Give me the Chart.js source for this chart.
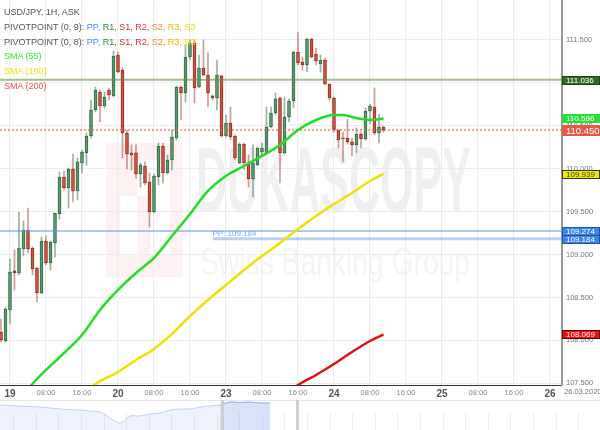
<!DOCTYPE html>
<html lang="en">
<head>
<meta charset="UTF-8">
<title>USD/JPY, 1H, ASK</title>
<script src="https://cdn.jsdelivr.net/npm/chart.js"></script>
<style>
    body { margin: 0; background: #fff; }
    #wrap { position: relative; width: 600px; height: 430px; overflow: hidden; font-family: "Liberation Sans", Arial, sans-serif; }
    #main { position: absolute; left: 0; top: 0; }
    #nav { position: absolute; left: 0; top: 400px; }
    .legend { position: absolute; left: 4px; top: 5px; font-size: 9px; line-height: 14.8px; color: #555; white-space: nowrap; }
</style>
</head>
<body>
<div id="wrap">
    <canvas id="main" width="600" height="400"></canvas>
    <canvas id="nav" width="600" height="30"></canvas>
    <div class="legend">
        <div>USD/JPY, 1H, ASK</div>
        <div>PIVOTPOINT (0, 9): <span style="color:#4a8fe8">PP,</span> <span style="color:#2e8b2e">R1,</span> <span style="color:#c0392b">S1,</span> <span style="color:#e83030">R2,</span> <span style="color:#f08a3c">S2,</span> <span style="color:#f5b400">R3,</span> <span style="color:#ece000">S3</span></div>
        <div>PIVOTPOINT (0, 8): <span style="color:#4a8fe8">PP,</span> <span style="color:#2e8b2e">R1,</span> <span style="color:#c0392b">S1,</span> <span style="color:#e83030">R2,</span> <span style="color:#f08a3c">S2,</span> <span style="color:#f5b400">R3,</span> <span style="color:#ece000">S3</span></div>
        <div style="color:#2ee62e">SMA (55)</div>
        <div style="color:#ece000">SMA (100)</div>
        <div style="color:#f05050">SMA (200)</div>
    </div>
</div>

<script>
// hourly candles, index 0 = 18.03 22:00
const opens = [108.098, 107.993, 108.354, 108.809, 108.785, 109.065, 109.286, 109.076, 108.844, 108.552,
    109.158, 108.902, 109.135, 109.473, 109.904, 109.776, 109.997, 109.741, 110.067, 110.184,
    110.381, 110.684, 110.894, 110.731, 110.917, 110.848, 111.325, 111.150, 110.416, 110.184,
    110.184, 109.939, 110.032, 109.846, 109.496, 109.904, 110.265, 109.950, 110.102, 110.358,
    110.952, 110.882, 111.302, 111.465, 110.952, 111.174, 111.092, 110.848, 110.824, 111.081,
    110.381, 110.533, 110.381, 110.067, 110.288, 110.067, 109.880, 110.044, 110.195, 110.184,
    110.486, 110.649, 110.824, 110.184, 110.603, 110.789, 111.360, 111.244, 111.209, 111.512,
    111.337, 111.220, 111.267, 110.987, 110.824, 110.451, 110.358, 110.358, 110.312, 110.277,
    110.405, 110.347, 110.673, 110.719, 110.416, 110.486];
const highs = [108.249, 108.389, 108.948, 109.053, 109.496, 109.391, 109.542, 109.088, 108.844, 109.205,
    109.216, 109.158, 109.484, 109.962, 109.974, 110.009, 110.172, 110.125, 110.218, 110.416,
    110.801, 110.952, 110.917, 110.894, 110.941, 111.372, 111.360, 111.174, 110.451, 110.277,
    110.277, 110.067, 110.079, 109.950, 109.939, 110.300, 110.300, 110.160, 110.451, 110.964,
    110.964, 111.442, 111.500, 111.500, 111.325, 111.500, 111.349, 110.859, 111.267, 111.092,
    110.626, 110.719, 110.393, 110.300, 110.300, 110.160, 110.277, 110.253, 110.300, 110.719,
    110.719, 110.882, 110.836, 110.836, 110.813, 111.372, 111.593, 111.302, 111.523, 111.523,
    111.407, 111.325, 111.290, 110.987, 110.836, 110.451, 110.428, 110.580, 110.358, 110.475,
    110.428, 110.708, 110.754, 110.941, 110.638, 110.498];
const lows = [107.981, 107.981, 108.191, 108.587, 108.762, 108.983, 109.018, 108.762, 108.447, 108.541,
    108.879, 108.820, 108.972, 109.414, 109.752, 109.542, 109.612, 109.636, 109.950, 110.044,
    110.358, 110.661, 110.545, 110.708, 110.801, 110.836, 111.116, 110.125, 109.997, 109.985,
    109.892, 109.787, 109.811, 109.321, 109.484, 109.811, 109.834, 109.939, 109.985, 110.335,
    110.568, 110.778, 111.267, 110.766, 110.941, 111.081, 110.719, 110.801, 110.684, 110.370,
    110.370, 110.335, 110.102, 110.055, 109.985, 109.787, 109.671, 110.032, 110.160, 110.172,
    110.475, 110.626, 109.834, 110.172, 110.545, 110.708, 111.209, 111.150, 111.127, 111.290,
    111.209, 111.127, 110.976, 110.801, 110.428, 110.242, 110.079, 110.288, 110.149, 110.184,
    110.242, 110.335, 110.521, 110.393, 110.300, 110.428];
const closes = [108.005, 108.366, 108.797, 108.785, 109.076, 109.286, 109.065, 108.832, 108.552, 109.158,
    108.902, 109.146, 109.484, 109.904, 109.776, 109.997, 109.741, 110.079, 110.195, 110.381,
    110.684, 110.917, 110.731, 110.836, 110.859, 111.314, 111.127, 110.416, 110.172, 110.160,
    109.939, 110.044, 109.834, 109.496, 109.915, 110.265, 109.950, 110.102, 110.370, 110.952,
    110.882, 111.302, 111.465, 110.941, 111.174, 111.092, 110.882, 110.824, 111.092, 110.381,
    110.533, 110.370, 110.125, 110.288, 110.067, 109.880, 110.067, 110.242, 110.242, 110.486,
    110.649, 110.813, 110.184, 110.603, 110.789, 111.360, 111.232, 111.209, 111.512, 111.302,
    111.255, 111.267, 110.987, 110.824, 110.451, 110.335, 110.347, 110.312, 110.277, 110.405,
    110.347, 110.673, 110.731, 110.416, 110.486, 110.450];

// moving averages (candle index -> value)
const sma55X = [4, 7, 10, 14, 18, 22, 26, 30, 34, 38, 42, 46, 50, 54, 58, 62, 66, 70, 74, 76, 78, 80, 82, 84, 85];
const sma55 = [107.300, 107.492, 107.655, 107.853, 108.063, 108.354, 108.587, 108.785, 108.960, 109.216,
    109.473, 109.741, 109.915, 110.032, 110.149, 110.277, 110.451, 110.568, 110.626, 110.626,
    110.603, 110.580, 110.568, 110.577, 110.586];
const sma100X = [19, 21, 26, 30, 34, 38, 42, 46, 50, 54, 58, 62, 66, 70, 74, 78, 82, 85];
const sma100 = [107.400, 107.492, 107.632, 107.772, 107.900, 108.075, 108.284, 108.471, 108.645, 108.820,
    108.983, 109.135, 109.298, 109.449, 109.589, 109.717, 109.857, 109.939];
const sma200X = [64, 66, 70, 74, 78, 82, 85];
const sma200 = [107.400, 107.480, 107.597, 107.725, 107.865, 107.993, 108.069];

// x axis
const tickIndex = [2, 10, 18, 26, 34, 42, 50, 58, 66, 74, 82, 90, 98, 106, 114, 122];
const tickLabels = ['19', '08:00', '16:00', '20', '08:00', '16:00', '23', '08:00', '16:00', '24', '08:00', '16:00', '25', '08:00', '16:00', '26'];
const dateLabel = '26.03.2020';

// levels
const r1Level = 111.036;
const ppLevel9 = 109.274;
const ppLevel8 = 109.184;
const ppStart8 = 47;
const lastPrice = 110.450;
const sma55Last = 110.586;
const sma100Last = 109.939;
const sma200Last = 108.069;

// navigator strip
const navLevels = [25, 24.5, 24, 23.5, 23, 22, 21, 20.5, 20, 19, 18, 12, 7, 14, 14, 16, 17, 20, 21, 21,
    23, 24, 25, 28, 27.5, 28, 27, 27];
const navWindow = [22, 27];

const xMin = -0.22, xMax = 124.67;
const FONT = '"Liberation Sans", Arial, sans-serif';
const upBody = '#5e9c70', upLine = '#2f6a40', upWick = 'rgba(70,115,85,0.55)';
const dnBody = '#d9533f', dnLine = '#8c2c1f', dnWick = 'rgba(150,60,50,0.5)';
const isUp = i => closes[i] >= opens[i];
const idx = opens.map((_, i) => i);
const pts = (xs, ys) => xs.map((x, i) => ({x: x, y: ys[i]}));
const hLine = (v, from) => [{x: from, y: v}, {x: xMax, y: v}];
const isHourTick = c => {
    const i = c && c.tick ? tickIndex.indexOf(c.tick.value) : -1;
    return i >= 0 && tickLabels[i].indexOf(':') >= 0;
};

const priceTags = [
    {value: r1Level, bg: '#2f6b21', fg: '#fff', border: '#1d4a12', size: 8},
    {value: sma55Last, bg: '#22e23a', fg: '#fff', border: '#22e23a', size: 8},
    {value: lastPrice, bg: '#e35a45', fg: '#fff', border: '#e35a45', size: 9.5, h: 11},
    {value: sma100Last, bg: '#f2ea00', fg: '#333', border: '#333', size: 8},
    {value: ppLevel9, bg: '#3d83e6', fg: '#fff', border: '#1f55a8', size: 8},
    {value: ppLevel8, bg: '#3d83e6', fg: '#fff', border: '#1f55a8', size: 8},
    {value: sma200Last, bg: '#f01010', fg: '#fff', border: '#5a0000', size: 8}
];

const decor = {
    id: 'decor',
    beforeDraw(chart) {
        const ctx = chart.ctx;
        ctx.save();
        ctx.fillStyle = '#fff';
        ctx.fillRect(0, 0, chart.width, chart.height);
        // watermark logo
        ctx.fillStyle = 'rgba(235,60,60,0.07)';
        ctx.fillRect(106, 143, 77, 134);
        ctx.fillStyle = '#fff';
        ctx.fillRect(120, 196, 17, 58);
        ctx.fillRect(137, 160, 33, 36);
        ctx.fillRect(150, 196, 20, 58);
        // watermark text
        ctx.fillStyle = 'rgba(0,0,0,0.06)';
        ctx.textBaseline = 'alphabetic';
        ctx.font = 'bold 92px ' + FONT;
        ctx.fillText('DUKASCOPY', 196, 212, 275);
        ctx.fillStyle = 'rgba(0,0,0,0.045)';
        ctx.font = '38px ' + FONT;
        ctx.fillText('Swiss Banking Group', 200, 275, 270);
        ctx.restore();
    },
    afterDatasetsDraw(chart) {
        const {ctx, scales: {x, y}} = chart;
        ctx.save();
        ctx.fillStyle = 'rgba(110,160,235,0.9)';
        ctx.font = '8px ' + FONT;
        ctx.textBaseline = 'bottom';
        ctx.fillText('PP: ' + ppLevel8.toFixed(3), x.getPixelForValue(ppStart8), y.getPixelForValue(ppLevel8) - 1);
        ctx.restore();
    },
    afterDraw(chart) {
        const {ctx, chartArea, scales: {y}} = chart;
        ctx.save();
        priceTags.forEach(t => {
            const h = t.h || 9;
            const py = Math.round(y.getPixelForValue(t.value) + 1);
            const top = py - Math.round(h / 2);
            ctx.fillStyle = t.bg;
            ctx.fillRect(chartArea.right, top, chart.width - chartArea.right, h);
            ctx.strokeStyle = t.border;
            ctx.lineWidth = 1;
            ctx.strokeRect(chartArea.right + 0.5, top + 0.5, chart.width - chartArea.right - 1, h - 1);
            ctx.fillStyle = t.fg;
            ctx.font = t.size + 'px ' + FONT;
            ctx.textBaseline = 'middle';
            ctx.fillText(t.value.toFixed(3), chartArea.right + 4, top + h / 2 + 0.5);
        });
        ctx.fillStyle = '#777';
        ctx.font = '7.5px ' + FONT;
        ctx.textBaseline = 'middle';
        ctx.fillText(dateLabel, chartArea.right + 2, chartArea.bottom + 7);
        ctx.restore();
    }
};

new Chart(document.getElementById('main'), {
    data: {
        datasets: [
            {
                type: 'bar', label: 'wicks', order: 5, grouped: false, barThickness: 1,
                data: idx.map(i => ({x: i, y: [lows[i], highs[i]]})),
                backgroundColor: c => isUp(c.dataIndex) ? upWick : dnWick
            },
            {
                type: 'bar', label: 'bodies', order: 4, grouped: false, barThickness: 3, minBarLength: 1,
                data: idx.map(i => ({x: i, y: [opens[i], closes[i]]})),
                backgroundColor: c => isUp(c.dataIndex) ? upBody : dnBody,
                borderColor: c => isUp(c.dataIndex) ? upLine : dnLine,
                borderWidth: 1, borderSkipped: false
            },
            { type: 'line', label: 'R1', order: 3, data: hLine(r1Level, xMin), borderColor: 'rgba(95,145,65,0.6)', borderWidth: 2, pointRadius: 0 },
            { type: 'line', label: 'last', order: 3, data: hLine(lastPrice, xMin), borderColor: 'rgba(235,110,95,0.65)', borderWidth: 2, borderDash: [2, 2], pointRadius: 0 },
            { type: 'line', label: 'PP9', order: 3, data: hLine(ppLevel9, xMin), borderColor: '#5a93ee', borderWidth: 1, pointRadius: 0 },
            { type: 'line', label: 'PP8', order: 3, data: hLine(ppLevel8, ppStart8), borderColor: 'rgba(130,170,240,0.55)', borderWidth: 3, pointRadius: 0 },
            { type: 'line', label: 'SMA (55)', order: 1, data: pts(sma55X, sma55), borderColor: '#22dd22', borderWidth: 2.5, pointRadius: 0, cubicInterpolationMode: 'monotone' },
            { type: 'line', label: 'SMA (100)', order: 1, data: pts(sma100X, sma100), borderColor: '#eee200', borderWidth: 2.5, pointRadius: 0, cubicInterpolationMode: 'monotone' },
            { type: 'line', label: 'SMA (200)', order: 1, data: pts(sma200X, sma200), borderColor: '#e01010', borderWidth: 2.5, pointRadius: 0, cubicInterpolationMode: 'monotone' }
        ]
    },
    options: {
        responsive: false,
        animation: false,
        events: [],
        layout: { padding: 0, autoPadding: false },
        plugins: { legend: { display: false }, tooltip: { enabled: false } },
        scales: {
            x: {
                type: 'linear', min: xMin, max: xMax, position: 'bottom', offset: false,
                afterBuildTicks: s => { s.ticks = tickIndex.map(v => ({value: v})); },
                afterFit: s => { s.height = 15; s.paddingLeft = 0; s.paddingRight = 0; },
                grid: { color: '#ececec', drawTicks: false, offset: false },
                border: { color: '#333', width: 1 },
                ticks: {
                    autoSkip: false, maxRotation: 0, padding: 3,
                    callback: v => tickLabels[tickIndex.indexOf(v)],
                    color: c => isHourTick(c) ? '#888' : '#555',
                    font: c => isHourTick(c)
                        ? { size: 7.5, family: FONT }
                        : { size: 10, weight: 'bold', family: FONT }
                }
            },
            y: {
                type: 'linear', position: 'right', min: 107.48, max: 111.966,
                afterFit: s => { s.width = 38; s.paddingTop = 0; s.paddingBottom = 0; },
                grid: { color: '#ececec', drawTicks: false },
                border: { color: '#999', width: 2 },
                ticks: {
                    stepSize: 0.5, includeBounds: false, padding: 4,
                    color: '#777',
                    font: { size: 7.5, family: FONT },
                    callback: v => v.toFixed(3)
                }
            }
        }
    },
    plugins: [decor]
});

const navDecor = {
    id: 'navDecor',
    beforeDatasetsDraw(chart) {
        // faint time ticks in the lower half of the strip
        const {ctx, scales: {x}} = chart;
        ctx.save();
        ctx.fillStyle = 'rgba(0,0,0,0.07)';
        for (let v = 1.32; v < 60; v += 2.26) {
            ctx.fillRect(Math.round(x.getPixelForValue(v)), 13, 1, chart.height - 13);
        }
        ctx.restore();
    },
    afterDraw(chart) {
        const {ctx, scales: {x}} = chart;
        ctx.save();
        ctx.fillStyle = '#e6e6e6';
        ctx.fillRect(0, 0, chart.width, 1);
        ctx.fillStyle = '#cfcfcf';
        [navWindow[0] + 0.2, navWindow[1] + 2.7].forEach(v => {
            ctx.fillRect(Math.round(x.getPixelForValue(v)) - 1, 0, 3, chart.height);
        });
        ctx.restore();
    }
};

new Chart(document.getElementById('nav'), {
    type: 'line',
    data: {
        datasets: [
            {
                data: navLevels.map((v, i) => ({x: i, y: v})), fill: 'origin',
                backgroundColor: 'rgba(120,160,235,0.12)', borderColor: 'rgba(120,160,235,0.45)',
                borderWidth: 1, pointRadius: 0, tension: 0.3
            },
            {
                data: navLevels.map((v, i) => ({x: i, y: v})).slice(navWindow[0], navWindow[1] + 1), fill: 'origin',
                backgroundColor: 'rgba(120,160,235,0.2)', borderColor: 'rgba(120,160,235,0.5)',
                borderWidth: 1, pointRadius: 0, tension: 0.3
            }
        ]
    },
    options: {
        responsive: false,
        animation: false,
        events: [],
        layout: { padding: 0, autoPadding: false },
        plugins: { legend: { display: false }, tooltip: { enabled: false } },
        scales: {
            x: { type: 'linear', display: false, min: 0, max: 60 },
            y: { display: false, min: 0, max: 30 }
        }
    },
    plugins: [navDecor]
});
</script>
</body>
</html>
